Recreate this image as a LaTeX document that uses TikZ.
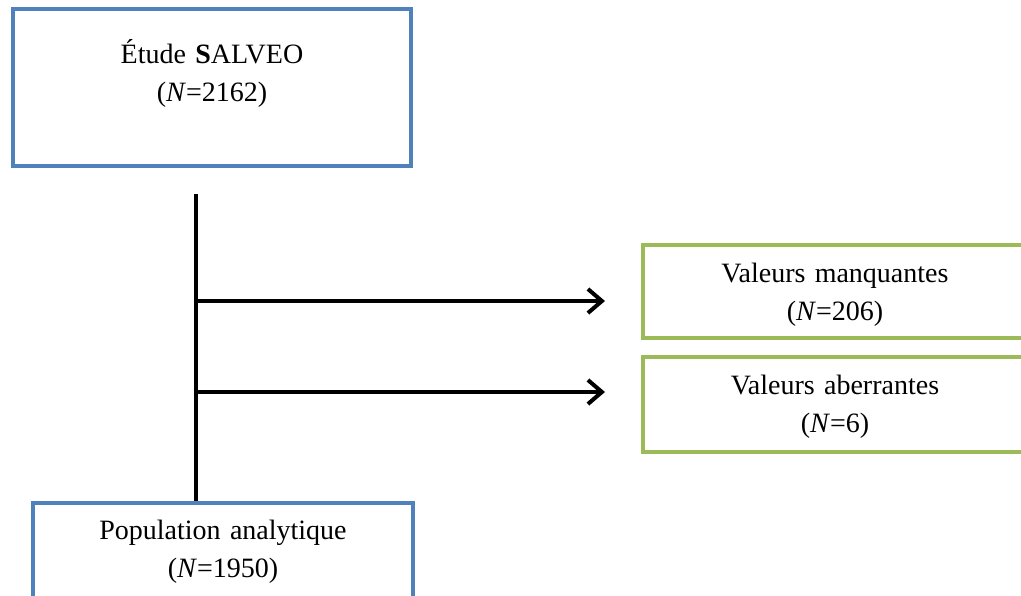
\documentclass[tikz,border=0pt]{standalone}
\usepackage{fontspec}
\setmainfont{Liberation Serif}
\usetikzlibrary{arrows.meta}
\definecolor{boxblue}{RGB}{79,129,189}
\definecolor{boxgreen}{RGB}{155,187,89}

\begin{document}
\begin{tikzpicture}[x=1pt,y=-1pt,
    every node/.style={font=\fontsize{28}{38}\selectfont, align=center, inner sep=0pt},
    bluebox/.style={draw=boxblue, line width=4pt},
    greenbox/.style={draw=boxgreen, line width=4pt},
    flow/.style={line width=4pt, -{Straight Barb[length=14pt,width=24pt]}}]
  \useasboundingbox (0,0) rectangle (1021,595);

  \node[bluebox, anchor=north west, text width=398pt, text height=54pt, text depth=103pt]
    (etude) at (11,7) {Étude \textbf{S}ALVEO\\(\textit{N}=2162)};
  \node[greenbox, anchor=north west, text width=384pt, text height=37pt, text depth=56pt]
    (manquantes) at (641,243) {Valeurs manquantes\\(\textit{N}=206)};
  \node[greenbox, anchor=north west, text width=384pt, text height=37pt, text depth=58pt]
    (aberrantes) at (641,355) {Valeurs aberrantes\\(\textit{N}=6)};
  \node[bluebox, anchor=north west, text width=380pt, text height=36pt, text depth=70pt]
    (analytique) at (31,501) {Population analytique\\(\textit{N}=1950)};

  % tronc et branches
  \coordinate (trunk) at (196,194);
  \coordinate (b1) at (196,301);
  \coordinate (b2) at (196,392);
  \coordinate (e1) at (605,301);
  \coordinate (e2) at (605,392);
  \draw[line width=4pt] (trunk) -- (trunk |- analytique.north);
  \draw[flow] (b1) -- (e1);
  \draw[flow] (b2) -- (e2);
\end{tikzpicture}
\end{document}
